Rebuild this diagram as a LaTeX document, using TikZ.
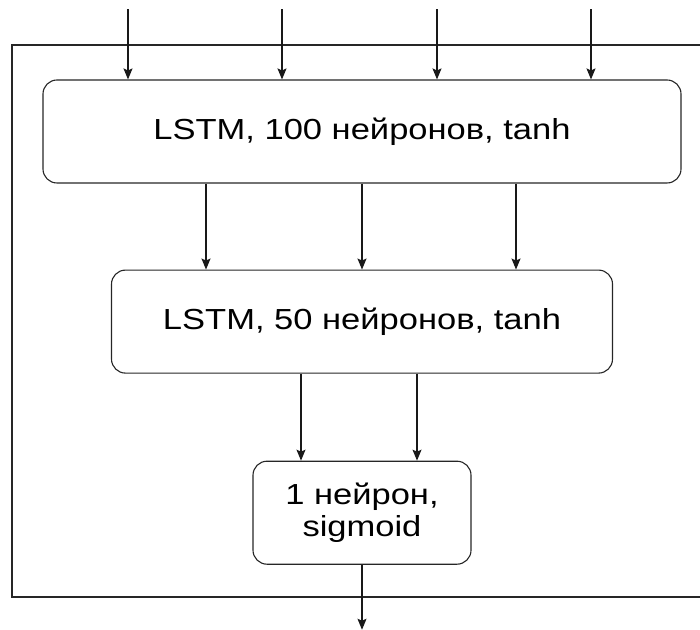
\documentclass[tikz,border=0pt]{standalone}
\usepackage{fontspec}
\setmainfont{Liberation Sans}[FakeStretch=1.19]
\usetikzlibrary{arrows.meta,positioning}

\begin{document}
\begin{tikzpicture}[x=1pt, y=1pt, node distance=86pt]
\tikzset{
  layerbox/.style={rectangle, rounded corners=14pt, draw=black!85, line width=1.1pt,
    minimum height=103pt, align=center, inner sep=2pt,
    font=\fontsize{29}{32}\selectfont},
  flow/.style={-{Stealth[length=11pt,width=9pt,inset=2pt]}, line width=1.1pt, draw=black!90},
  frame/.style={draw=black!85, line width=1.1pt}
}
\useasboundingbox (0,0) rectangle (700,629);

\node[layerbox, minimum width=638pt] (lstma) at (362,497.5) {LSTM, 100 нейронов, tanh};
\node[layerbox, minimum width=501pt, below=of lstma] (lstmb) {LSTM, 50 нейронов, tanh};
\node[layerbox, minimum width=218pt, below=87pt of lstmb] (dense) {1 нейрон,\\sigmoid};

% outer frame, open on the right side
\draw[frame] (700,584) -- (12,584) -- (12,32) -- (700,32);

% inputs
\foreach \dx [count=\i] in {-234,-80,75,229} {
  \coordinate (in\i) at ([xshift=\dx pt, yshift=70pt]lstma.north);
  \draw[flow] (in\i) -- (in\i |- lstma.north);
}
\foreach \dx in {-156,0,154}
  \draw[flow] ([xshift=\dx pt]lstma.south) -- ([xshift=\dx pt]lstma.south |- lstmb.north);
\foreach \dx in {-61,55}
  \draw[flow] ([xshift=\dx pt]lstmb.south) -- ([xshift=\dx pt]lstmb.south |- dense.north);

\coordinate[below=65pt of dense] (out);
\draw[flow] (dense) -- (out);
\end{tikzpicture}
\end{document}
